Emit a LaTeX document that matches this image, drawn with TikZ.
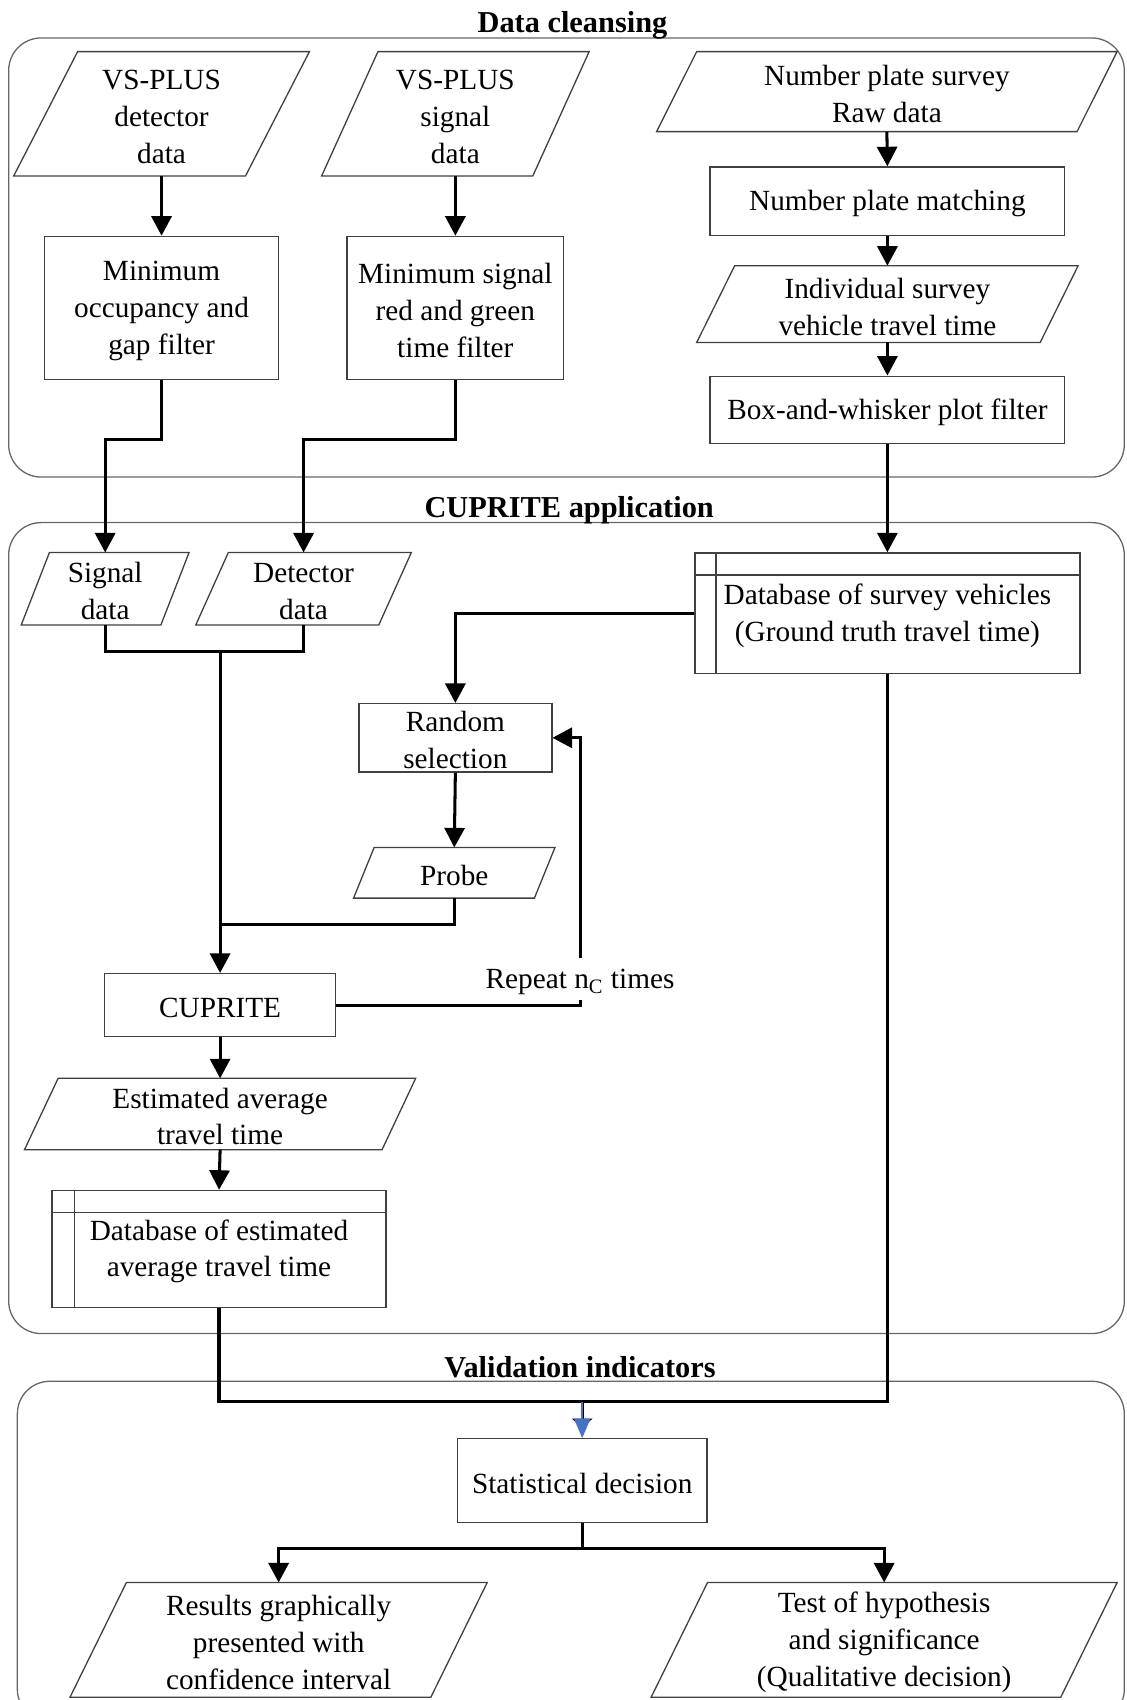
\documentclass[tikz,border=0pt]{standalone}
\usepackage{fontspec}
\setmainfont{Liberation Serif}
\usetikzlibrary{arrows.meta,calc}
\definecolor{blueA}{HTML}{4472C4}
\newcommand\st{\rule{0pt}{11.7pt}}
\newcommand\paral[6]{%
  \node[txt, sz={#3}{#4}] (#1) at (#2) {\st #6};
  \draw[boxline] ($(#1.north west)+(#5/2,0)$) -- ($(#1.north east)+(#5/2,0)$) -- ($(#1.south east)-(#5/2,0)$) -- ($(#1.south west)-(#5/2,0)$) -- cycle;
}
\begin{document}
\begin{tikzpicture}[x=0.5pt,y=-0.5pt,
  txt/.style={font=\fontsize{13.5}{17}\selectfont, align=center, inner sep=0pt},
  ttl/.style={font=\fontsize{14}{17}\selectfont\bfseries, inner sep=0pt},
  sz/.style 2 args={minimum width={#1*0.5pt}, minimum height={#2*0.5pt}},
  boxline/.style={draw=black!75, line width=0.6pt},
  box/.style={txt, boxline},
  frame/.style={draw=black!60, line width=0.6pt, rounded corners=15pt},
  conn/.style={line width=1.4pt, draw=black},
  arr/.style={conn, -{Triangle[width=9.25pt,length=9pt]}},
]
\useasboundingbox (0,0) rectangle (1039,1568);
\clip (0,0) rectangle (1039,1568);

% containers and titles
\draw[frame] (8,35) rectangle (1037,440);
\draw[frame] (8,482) rectangle (1037,1230);
\draw[frame] (16,1274) rectangle (1037,1588);
\node[ttl] (t1) at (528,23) {Data cleansing};
\node[ttl] (t2) at (525,471) {CUPRITE application};
\node[ttl] (t3) at (535,1261) {Validation indicators};

% data cleansing
\paral{p1}{149,105}{213}{114}{59}{VS-PLUS\\detector\\data}
\paral{p2}{420,105}{194}{114}{52}{VS-PLUS\\signal\\data}
\paral{p3}{818,84.5}{387}{73}{37}{Number plate survey\\Raw data}
\node[box, sz={327}{63}] (r3) at (818.5,185.5) {\st Number plate matching};
\paral{p4}{818.5,280.5}{316}{70}{35}{Individual survey\\vehicle travel time}
\node[box, sz={327}{62}] (r4) at (818.5,378) {\st Box-and-whisker plot filter};
\node[box, sz={216}{132}] (r1) at (149,284) {\st Minimum\\occupancy and\\gap filter};
\node[box, sz={200}{132}] (r2) at (420,284) {\st Minimum signal\\red and green\\time filter};

% CUPRITE application
\paral{p5}{97,543}{128}{66}{26}{Signal\\data}
\paral{p6}{280,543}{168}{66}{30}{Detector\\data}
\node[box, sz={355}{111}] (db1) at (818.5,565.5) {\st Database of survey vehicles\\(Ground truth travel time)};
\draw[boxline] ($(db1.north west)+(20,0)$) -- ($(db1.south west)+(20,0)$);
\draw[boxline] ($(db1.north west)+(0,21)$) -- ($(db1.north east)+(0,21)$);
\node[box, sz={178}{63}] (r5) at (420,680.5) {\st Random\\selection};
\paral{p7}{419,805}{166}{46}{19}{Probe}
\node[box, sz={213}{58}] (r6) at (203,927) {\st CUPRITE};
\paral{p8}{203,1027.5}{329}{65}{31}{Estimated average\\travel time}
\node[box, sz={308}{108}] (db2) at (202,1152) {\st Database of estimated\\average travel time};
\draw[boxline] ($(db2.north west)+(21,0)$) -- ($(db2.south west)+(21,0)$);
\draw[boxline] ($(db2.north west)+(0,21)$) -- ($(db2.north east)+(0,21)$);
\node[txt, fill=white, inner sep=2pt] (rp) at (535,903) {\st Repeat n\textsubscript{C} times};

% validation
\node[box, sz={230}{77}] (r7) at (537,1365.5) {\st Statistical decision};
\paral{p9}{257,1512.5}{332}{105}{52}{Results graphically\\presented with\\confidence interval}
\paral{p10}{815.5,1512.5}{377}{105}{52}{Test of hypothesis\\and significance\\(Qualitative decision)}

% junctions
\coordinate (j1) at (203,601);
\coordinate (j2) at (203,853);
\coordinate (j3) at (537,1293);
\coordinate (j4) at (537,1428);

% connectors
\draw[arr] (p1.south) -- (r1.north);
\draw[arr] (p2.south) -- (r2.north);
\draw[arr] (p3.south) -- (r3.north);
\draw[arr] (r3.south) -- (p4.north);
\draw[arr] (p4.south) -- (r4.north);
\draw[arr] (r1.south) -- ++(0,55) -| (p5.north);
\draw[arr] (r2.south) -- ++(0,55) -| (p6.north);
\draw[arr] (r4.south) -- (db1.north);
\draw[conn] (p5.south) |- (j1) -| (p6.south);
\draw[arr] (j1) -- (r6.north);
\draw[arr] (db1.west) -| (r5.north);
\draw[arr] (r5.south) -- (p7.north);
\draw[conn] (p7.south) |- (j2);
\draw[conn] (r6.east) -| (rp.south);
\draw[arr] (rp.north) |- (r5.east);
\draw[arr] (r6.south) -- (p8.north);
\draw[arr] (p8.south) -- (db2.north);
\draw[conn] (db2.south) |- (j3) -| (db1.south);
\draw[conn, -{Triangle[width=9.25pt,length=4.5pt]}, shorten >=4.5pt] (j3) -- (r7.north);
\draw[draw=blueA, line width=0.8pt, -{Triangle[width=7.5pt,length=9pt]}] (j3) -- (r7.north);
\draw[arr] (r7.south) -- (j4) -| (p9.north);
\draw[arr] (j4) -| (p10.north);
\end{tikzpicture}
\end{document}
